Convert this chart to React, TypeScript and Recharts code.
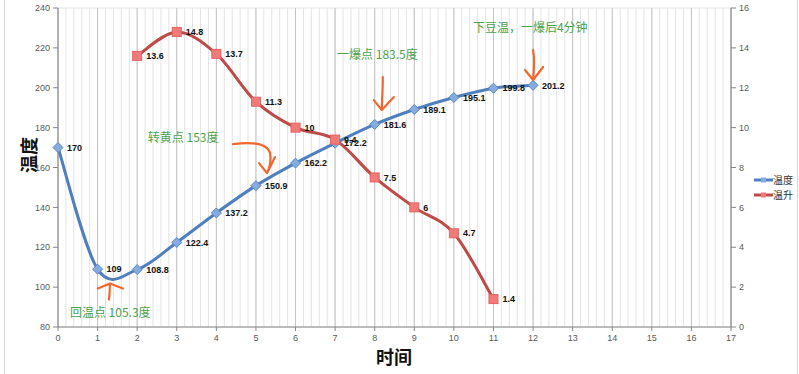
import React from 'react';
import { LineChart, Line, XAxis, YAxis, CartesianGrid, LabelList, ReferenceDot } from 'recharts';

// roast log: bean temp (left axis) and rate of rise (right axis) per minute
const minutes = [0, 1, 2, 3, 4, 5, 6, 7, 8, 9, 10, 11, 12];
const beanTemp = [170, 109, 108.8, 122.4, 137.2, 150.9, 162.2, 172.2, 181.6, 189.1, 195.1, 199.8, 201.2];
const riseMinutes = [2, 3, 4, 5, 6, 7, 8, 9, 10, 11];
const riseRate = [13.6, 14.8, 13.7, 11.3, 10, 9.4, 7.5, 6, 4.7, 1.4];

const xTicks = [0, 1, 2, 3, 4, 5, 6, 7, 8, 9, 10, 11, 12, 13, 14, 15, 16, 17];
const leftTicks = [80, 100, 120, 140, 160, 180, 200, 220, 240];
const rightTicks = [0, 2, 4, 6, 8, 10, 12, 14, 16];
const minorX = Array.from({ length: 86 }, (_, i) => i / 5);
const minorY = Array.from({ length: 17 }, (_, i) => 80 + i * 10);

// green callouts: [x, y(left axis), text]
const notes: [number, number, string][] = [
  [0.3, 87, '回温点 105.3度'],
  [2.27, 174.8, '转黄点 153度'],
  [7.05, 216.4, '一爆点 183.5度'],
  [10.48, 230, '下豆温，一爆后4分钟'],
];

// hand-drawn orange arrows, anchored at the tip
const arrows: [number, number, string][] = [
  [1.31, 101.8, 'M-1,16 C0,10 0,5 0,0 M-12,5 L0,0 L13,5'],
  [5.28, 157.2, 'M-34,-29 C-18,-31 0,-31 3,-20 C4,-13 3,-6 0,0 M-8,-10 L0,0 L8,-16'],
  [8.18, 188.8, 'M1,-33 C1,-20 0,-10 0,0 M-8,-10 L0,0 L12,-13'],
  [12.0, 203.9, 'M0,-30 C2,-20 1,-10 0,0 M-8,-10 L0,0 L10,-13'],
];

const rows = minutes.map((m, i) => {
  const j = riseMinutes.indexOf(m);
  return { t: m, temp: beanTemp[i], rise: j >= 0 ? riseRate[j] : null };
});

// Excel-like smoothing (Catmull-Rom as cubic bezier)
const smooth: any = (ctx: any) => {
  let pts: number[][] = [];
  return {
    areaStart() {},
    areaEnd() {},
    lineStart() { pts = []; },
    point(x: number, y: number) { pts.push([+x, +y]); },
    lineEnd() {
      if (!pts.length) return;
      ctx.moveTo(pts[0][0], pts[0][1]);
      for (let i = 0; i < pts.length - 1; i++) {
        const p0 = pts[i - 1] || pts[i];
        const p1 = pts[i];
        const p2 = pts[i + 1];
        const p3 = pts[i + 2] || p2;
        ctx.bezierCurveTo(
          p1[0] + (p2[0] - p0[0]) / 6, p1[1] + (p2[1] - p0[1]) / 6,
          p2[0] - (p3[0] - p1[0]) / 6, p2[1] - (p3[1] - p1[1]) / 6,
          p2[0], p2[1]
        );
      }
    },
  };
};

const Diamond = (p: any) => {
  const { cx, cy, value } = p;
  if (value == null || cx == null) return <g key={p.index} />;
  return (
    <path key={p.index} d={`M${cx},${cy - 5}L${cx + 5},${cy}L${cx},${cy + 5}L${cx - 5},${cy}Z`}
      fill="#86acdf" stroke="#5b87c2" strokeWidth={1} />
  );
};

const Square = (p: any) => {
  const { cx, cy, value } = p;
  if (value == null || cx == null) return <g key={p.index} />;
  return <rect key={p.index} x={cx - 4.5} y={cy - 4.5} width={9} height={9} fill="#f07c7a" stroke="#e7605e" strokeWidth={1} />;
};

const PointLabel = (p: any) => {
  const { x, y, value } = p;
  if (value == null) return null;
  return (
    <text x={x + 9} y={y} dy="0.35em" fontSize={9} fontWeight="bold" fill="#111" fontFamily="Liberation Sans, Arial, sans-serif">
      {value}
    </text>
  );
};

const tickStyle = { fontSize: 9, fill: '#595959', fontFamily: 'Liberation Sans, Arial, sans-serif' };
const cjk = '"Noto Sans CJK SC", sans-serif';

export default function App() {
  return (
    <div style={{ position: 'absolute', left: 0, top: 0, width: 799, height: 374, background: '#fff' }}>
      <div style={{ position: 'absolute', left: 4, top: 0, width: 792, height: 374, borderLeft: '1px solid #d6d6d6', borderRight: '1px solid #d6d6d6' }} />
      <LineChart width={799} height={374} data={rows} margin={{ top: 8, right: 0, bottom: 0, left: 0 }}>
        <XAxis xAxisId="minor" dataKey="t" type="number" domain={[0, 17]} ticks={minorX} interval={0} hide />
        <YAxis yAxisId="minorY" type="number" domain={[80, 240]} ticks={minorY} interval={0} hide />
        <CartesianGrid xAxisId="minor" yAxisId="minorY" stroke="#e3e3e3" strokeWidth={1} />
        <CartesianGrid yAxisId="left" stroke="#c4c4c4" horizontal={false} strokeWidth={1} />
        <XAxis dataKey="t" type="number" domain={[0, 17]} ticks={xTicks} interval={0} height={47}
          tick={tickStyle} tickLine={{ stroke: '#868686' }} tickSize={4} tickMargin={4}
          axisLine={{ stroke: '#868686' }} />
        <YAxis yAxisId="left" type="number" domain={[80, 240]} ticks={leftTicks} interval={0} width={58}
          tick={tickStyle} tickLine={{ stroke: '#868686' }} tickSize={5} tickMargin={3}
          axisLine={{ stroke: '#868686' }} />
        <YAxis yAxisId="right" orientation="right" type="number" domain={[0, 16]} ticks={rightTicks} interval={0} width={68}
          tick={tickStyle} tickLine={{ stroke: '#868686' }} tickSize={5} tickMargin={3}
          axisLine={{ stroke: '#868686' }} />
        <Line yAxisId="left" dataKey="temp" type={smooth} stroke="#4f7fbe" strokeWidth={3}
          dot={Diamond} activeDot={false} isAnimationActive={false}>
          <LabelList dataKey="temp" content={PointLabel} />
        </Line>
        <Line yAxisId="right" dataKey="rise" type={smooth} stroke="#bd4b48" strokeWidth={3}
          dot={Square} activeDot={false} isAnimationActive={false}>
          <LabelList dataKey="rise" content={PointLabel} />
        </Line>
        {notes.map(([x, y, text]) => (
          <ReferenceDot key={text} yAxisId="left" x={x} y={y} r={0}
            shape={(p: any) => (
              <text x={p.cx} y={p.cy} dy="0.35em" fontSize={12} fill="#4ea24e" fontFamily={cjk}>{text}</text>
            )} />
        ))}
        {arrows.map(([x, y, d]) => (
          <ReferenceDot key={d} yAxisId="left" x={x} y={y} r={0}
            shape={(p: any) => (
              <path d={d} transform={`translate(${p.cx},${p.cy})`} fill="none" stroke="#f2672f"
                strokeWidth={2.2} strokeLinecap="round" strokeLinejoin="round" />
            )} />
        ))}
      </LineChart>
      <div style={{ position: 'absolute', left: 8, top: 155, transform: 'translate(0,-50%) rotate(-90deg)', transformOrigin: 'center',
        fontFamily: cjk, fontWeight: 'bold', fontSize: 18, color: '#111', width: 40, textAlign: 'center' }}>温度</div>
      <div style={{ position: 'absolute', left: 376, top: 343, fontFamily: cjk, fontWeight: 'bold', fontSize: 18, color: '#111' }}>时间</div>
      <div style={{ position: 'absolute', left: 754, top: 172, fontFamily: cjk, fontSize: 10, color: '#333', lineHeight: '15px' }}>
        {[['温度', '#4f7fbe', '#86acdf'], ['温升', '#bd4b48', '#f07c7a']].map(([name, c, f]) => (
          <div key={name} style={{ display: 'flex', alignItems: 'center' }}>
            <svg width={19} height={8}>
              <line x1={0} y1={4} x2={19} y2={4} stroke={c} strokeWidth={3} />
              <rect x={7} y={1.5} width={5} height={5} fill={f} />
            </svg>
            <span>{name}</span>
          </div>
        ))}
      </div>
    </div>
  );
}
